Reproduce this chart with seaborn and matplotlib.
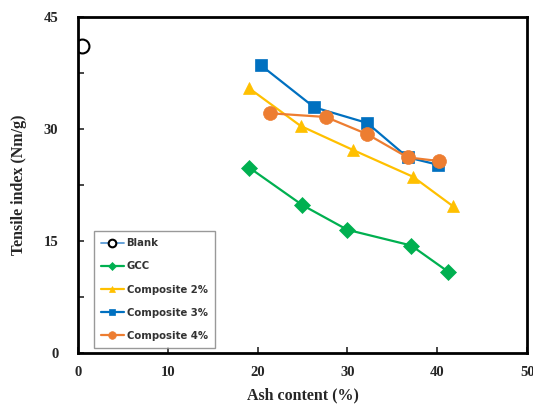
import matplotlib
matplotlib.use("Agg")
import matplotlib.pyplot as plt
import seaborn as sns
import pandas as pd
from matplotlib.ticker import MultipleLocator

sns.set_style("white")

blank_x = [0.5]
blank_y = [41.1]
gcc_x = [19.1, 25.0, 30.0, 37.1, 41.2]
gcc_y = [24.8, 19.8, 16.5, 14.4, 10.9]
c2_x = [19.0, 24.8, 30.6, 37.3, 41.7]
c2_y = [35.5, 30.4, 27.2, 23.6, 19.7]
c3_x = [20.4, 26.3, 32.2, 36.7, 40.1]
c3_y = [38.5, 32.9, 30.8, 26.2, 25.2]
c4_x = [21.4, 27.6, 32.2, 36.7, 40.2]
c4_y = [32.1, 31.6, 29.3, 26.2, 25.7]

fig = plt.figure(figsize=(5.33, 4.12), dpi=100)
ax = fig.add_axes([0.146, 0.143, 0.843, 0.816])

series = [
    ("Blank", blank_x, blank_y, "o", "#5B9BD5", 10),
    ("GCC", gcc_x, gcc_y, "D", "#00B050", 8),
    ("Composite 2%", c2_x, c2_y, "^", "#FFC000", 9),
    ("Composite 3%", c3_x, c3_y, "s", "#0070C0", 9),
    ("Composite 4%", c4_x, c4_y, "o", "#ED7D31", 10),
]

for name, xs, ys, m, c, ms in series:
    df = pd.DataFrame({"x": xs, "y": ys})
    if name == "Blank":
        sns.lineplot(data=df, x="x", y="y", ax=ax, sort=False, color=c, lw=1.3,
                     marker=m, markersize=ms, markerfacecolor="white",
                     markeredgecolor="black", markeredgewidth=1.5, label=name)
    else:
        sns.lineplot(data=df, x="x", y="y", ax=ax, sort=False, color=c, lw=1.6,
                     marker=m, markersize=ms, markerfacecolor=c,
                     markeredgecolor=c, markeredgewidth=0.5, label=name)

ax.set_xlim(0, 50)
ax.set_ylim(0, 45)
ax.xaxis.set_major_locator(MultipleLocator(10))
ax.yaxis.set_major_locator(MultipleLocator(15))
ax.yaxis.set_minor_locator(MultipleLocator(7.5))
ax.tick_params(axis="both", which="both", direction="in", length=4, width=1.2,
               bottom=True, left=True, top=False, right=False)
ax.tick_params(axis="x", which="major", labelsize=10.5, pad=9)
ax.tick_params(axis="y", which="major", labelsize=10.5, pad=14)

serif = ["Liberation Serif", "DejaVu Serif"]
for lab in ax.get_xticklabels() + ax.get_yticklabels():
    lab.set_fontfamily(serif)
    lab.set_fontweight("bold")

ax.set_xlabel("Ash content (%)", fontsize=11.5, fontweight="bold", family=serif, labelpad=6)
ax.set_ylabel("Tensile index (Nm/g)", fontsize=11.5, fontweight="bold", family=serif, labelpad=12)

for s in ax.spines.values():
    s.set_color("black")
    s.set_linewidth(2)

leg = ax.legend(loc="lower left", bbox_to_anchor=(0.025, 0.0), fontsize=7.3,
                frameon=True, fancybox=False, edgecolor="#808080",
                handlelength=2.2, labelspacing=1.3, borderpad=0.7,
                handletextpad=0.3, markerscale=0.55)
leg.get_frame().set_linewidth(1.0)
for t in leg.get_texts():
    t.set_fontweight("bold")
    t.set_color("#333333")

fig.savefig("out.png", dpi=100)
